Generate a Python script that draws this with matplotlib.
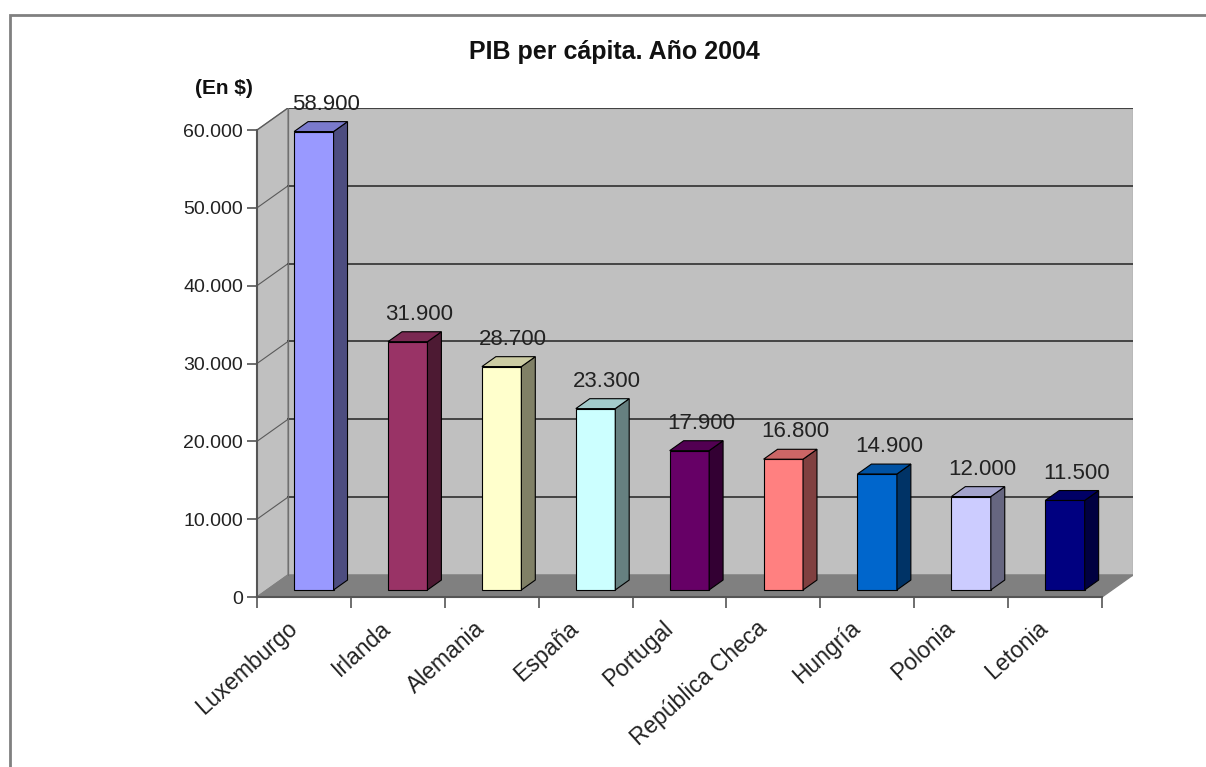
import matplotlib
matplotlib.use("Agg")
import matplotlib.pyplot as plt
from matplotlib.patches import Polygon, Rectangle
from matplotlib.colors import to_rgb
import numpy as np

plt.rcParams['font.family'] = ['Liberation Sans', 'DejaVu Sans']

# ---- data ----
countries = ["Luxemburgo", "Irlanda", "Alemania", "España", "Portugal",
             "República Checa", "Hungría", "Polonia", "Letonia"]
values = [58900, 31900, 28700, 23300, 17900, 16800, 14900, 12000, 11500]
value_labels = ["58.900", "31.900", "28.700", "23.300", "17.900",
                "16.800", "14.900", "12.000", "11.500"]
bar_colors = ["#9999FF", "#993366", "#FFFFCC", "#CCFFFF", "#660066",
              "#FF8080", "#0066CC", "#CCCCFF", "#000080"]
yticks = [0, 10000, 20000, 30000, 40000, 50000, 60000]
ytick_labels = ["0", "10.000", "20.000", "30.000", "40.000", "50.000", "60.000"]
title = "PIB per cápita. Año 2004"
unit_label = "(En $)"

# ---- 3D projection parameters (in data units) ----
DX = 0.33      # depth offset along x (categories)
DY = 2830      # depth offset along y (values)
F0, F1 = 0.32, 0.77   # bar depth range (fraction of wall depth)
W = 0.42       # bar width
LABEL_SHIFT = 0.19
YMAX = 60000
n = len(countries)
x0, x1 = -0.5, n - 0.5

W_PX, H_PX = 1206, 767
fig = plt.figure(figsize=(W_PX / 100, H_PX / 100), dpi=100)
ax = fig.add_axes([257 / W_PX, (H_PX - 597) / H_PX,
                   (1133 - 257) / W_PX, (597 - 108) / H_PX])
ax.set_xlim(x0, x1 + DX)
ax.set_ylim(0, YMAX + DY)
ax.patch.set_visible(False)

wall = "#C0C0C0"
floor = "#808080"
# side wall
ax.add_patch(Polygon([(x0, 0), (x0 + DX, DY), (x0 + DX, YMAX + DY), (x0, YMAX)],
                     closed=True, facecolor=wall, edgecolor="#808080", lw=1, zorder=0))
# back wall
ax.add_patch(Polygon([(x0 + DX, DY), (x1 + DX, DY), (x1 + DX, YMAX + DY), (x0 + DX, YMAX + DY)],
                     closed=True, facecolor=wall, edgecolor="#A0A0A0", lw=1, zorder=0))
# floor
ax.add_patch(Polygon([(x0, 0), (x1, 0), (x1 + DX, DY), (x0 + DX, DY)],
                     closed=True, facecolor=floor, edgecolor="#808080", lw=1, zorder=0.5))

# gridlines
for v in yticks[1:]:
    ax.plot([x0 + DX, x1 + DX], [v + DY, v + DY], color="#3a3a3a", lw=1.3, zorder=1)
    ax.plot([x0, x0 + DX], [v, v + DY], color="#5a5a5a", lw=0.8, zorder=1)
ax.plot([x0 + DX, x0 + DX], [DY, YMAX + DY], color="#707070", lw=0.8, zorder=1)

# bars
for i, (v, c) in enumerate(zip(values, bar_colors)):
    rgb = np.array(to_rgb(c))
    xc = i + F0 * DX
    b0 = F0 * DY
    ax.bar(xc, v, bottom=b0, width=W, color=c, edgecolor="black", lw=0.8, zorder=3)
    xl, xr = xc - W / 2, xc + W / 2
    top = v + b0
    dd = F1 - F0
    ax.add_patch(Polygon([(xr, b0), (xr + dd * DX, b0 + dd * DY),
                          (xr + dd * DX, top + dd * DY), (xr, top)],
                         closed=True, facecolor=rgb * 0.5, edgecolor="black", lw=0.8, zorder=3))
    ax.add_patch(Polygon([(xl, top), (xr, top), (xr + dd * DX, top + dd * DY),
                          (xl + dd * DX, top + dd * DY)],
                         closed=True, facecolor=rgb * 0.8, edgecolor="black", lw=0.8, zorder=3))
    ax.annotate(value_labels[i], (xc + dd * DX / 2 + 0.05, v + F1 * DY),
                xytext=(0, 5), textcoords="offset points", ha="center", va="bottom",
                fontsize=16, color="#222222", zorder=5)

# axes / ticks
for s in ["top", "right"]:
    ax.spines[s].set_visible(False)
ax.spines["left"].set_bounds(0, YMAX)
ax.spines["bottom"].set_bounds(x0, x1)
for s in ["left", "bottom"]:
    ax.spines[s].set_color("#555555")
    ax.spines[s].set_linewidth(1.5)
    ax.spines[s].set_zorder(2)

ax.set_yticks(yticks)
ax.set_yticklabels(ytick_labels, fontsize=14, color="#222222")
ax.tick_params(axis="y", length=7, width=1.2, color="#555555", pad=3)

ax.set_xticks(np.arange(n) - LABEL_SHIFT)
ax.set_xticklabels(countries, rotation=42, ha="right", rotation_mode="anchor",
                   fontsize=16.5, color="#222222")
ax.set_xticks(np.arange(x0, x1 + 0.01, 1.0), minor=True)
ax.tick_params(axis="x", which="major", length=0, pad=14)
ax.tick_params(axis="x", which="minor", length=8, width=1.2, color="#555555")

# texts
fig.text(614 / W_PX, 1 - 52 / H_PX, title, ha="center", va="center",
         fontsize=18, fontweight="bold", color="#111111")
fig.text(224 / W_PX, 1 - 88 / H_PX, unit_label, ha="center", va="center",
         fontsize=15, fontweight="bold", color="#111111")

# outer chart border
fig.add_artist(Rectangle((10 / W_PX, -0.1), 1.2, (H_PX - 15) / H_PX + 0.1,
                         transform=fig.transFigure, fill=False,
                         edgecolor="#808080", lw=2))

fig.savefig("out.png", dpi=100)
